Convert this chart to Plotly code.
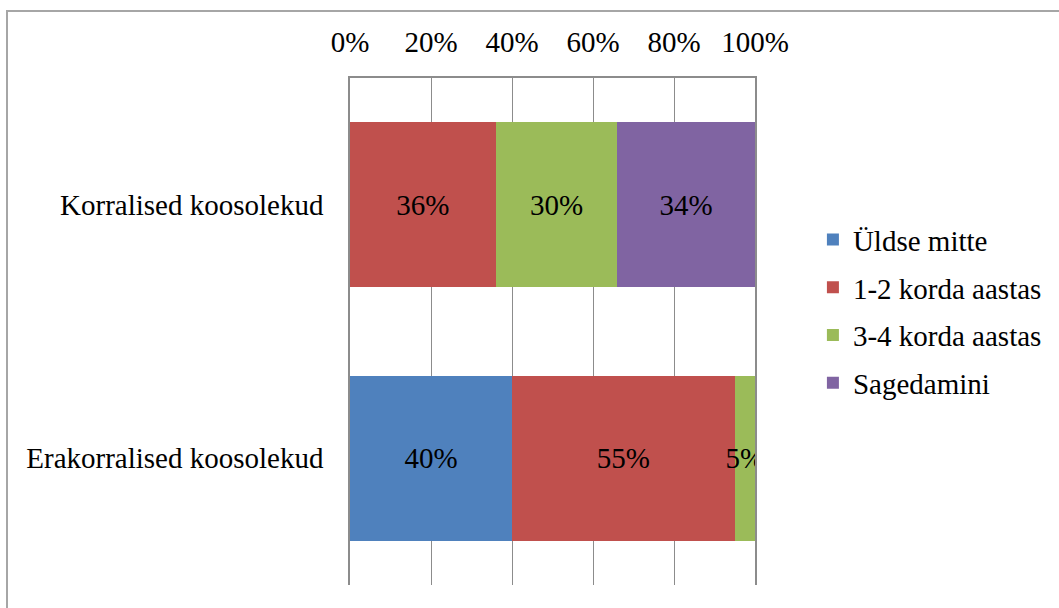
import plotly.graph_objects as go

# Meeting types (top to bottom as shown) and answer categories
categories = ["Korralised koosolekud", "Erakorralised koosolekud"]
series_names = ["Üldse mitte", "1-2 korda aastas", "3-4 korda aastas", "Sagedamini"]
series_values = {
    "Üldse mitte": [0, 40],
    "1-2 korda aastas": [36, 55],
    "3-4 korda aastas": [30, 5],
    "Sagedamini": [34, 0],
}
series_colors = ["#4F81BD", "#C0504D", "#9BBB59", "#8064A2"]
tick_values = [0, 20, 40, 60, 80, 100]
tick_labels = ["0%", "20%", "40%", "60%", "80%", "100%"]

FONT = "Liberation Serif"
FS = 29
txt_font = dict(family=FONT, size=FS, color="black")

fig = go.Figure()
for i, name in enumerate(series_names):
    vals = series_values[name]
    fig.add_trace(go.Bar(
        y=categories,
        x=vals,
        name=name,
        orientation="h",
        marker=dict(color=series_colors[i], line=dict(width=0)),
        text=[f"{v}%" if v else "" for v in vals],
        textposition="inside",
        insidetextanchor="middle",
        textangle=0,
        constraintext="none",
        textfont=txt_font,
        insidetextfont=txt_font,
        outsidetextfont=txt_font,
        legendgroup=name,
        hoverinfo="x+name",
    ))

fig.update_layout(
    width=1059,
    height=608,
    barmode="stack",
    bargap=0.35,
    plot_bgcolor="white",
    paper_bgcolor="white",
    font=txt_font,
    margin=dict(l=350, r=304, t=78, b=23, autoexpand=False),
    showlegend=True,
    legend=dict(
        x=1.143, y=0.54, xanchor="left", yanchor="middle",
        traceorder="grouped", tracegroupgap=7,
        font=txt_font,
        itemwidth=30,
    ),
    xaxis=dict(
        side="top",
        range=[0, 100],
        tickvals=tick_values,
        ticktext=tick_labels,
        showgrid=True,
        gridcolor="#8C8C8C",
        gridwidth=1,
        showline=True,
        linecolor="#8C8C8C",
        linewidth=1.5,
        mirror=False,
        ticks="",
        ticklabelstandoff=13,
        zeroline=False,
        fixedrange=True,
    ),
    yaxis=dict(
        categoryorder="array",
        categoryarray=categories[::-1],
        showline=True,
        mirror=True,
        linecolor="#8C8C8C",
        linewidth=1.5,
        showgrid=False,
        ticks="",
        ticklabelstandoff=19,
        fixedrange=True,
    ),
    shapes=[dict(
        type="rect", xref="paper", yref="paper",
        x0=-343 / 405, x1=2.5, y0=-0.5, y1=(585 - 11) / 507,
        line=dict(color="#A6A6A6", width=2),
        fillcolor="rgba(0,0,0,0)",
        layer="below",
    )],
)

fig.write_html("out.html")
